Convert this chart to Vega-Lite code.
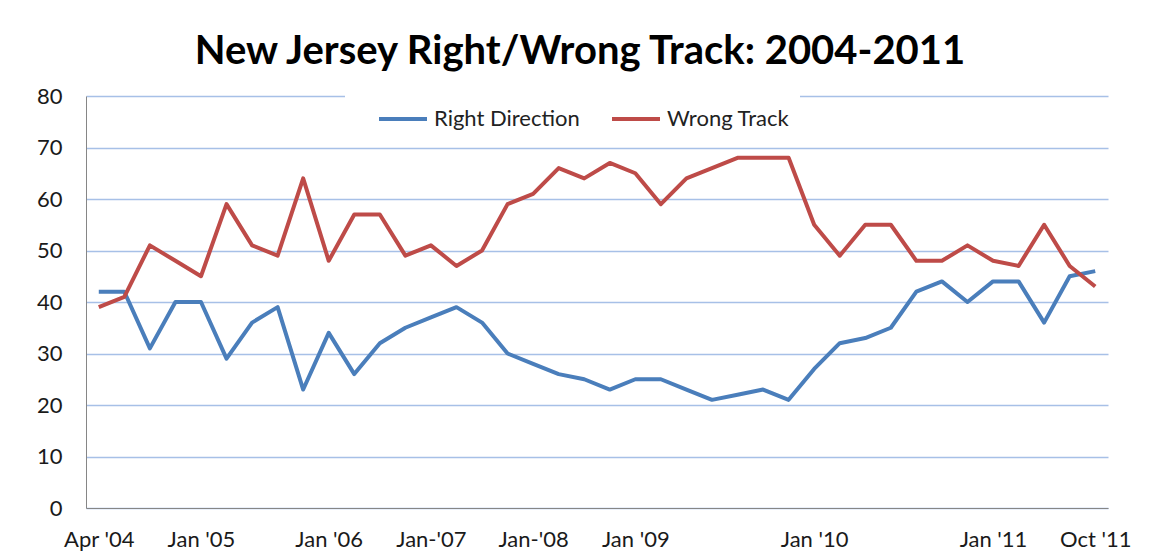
{
  "$schema": "https://vega.github.io/schema/vega-lite/v6.json",
  "autosize": {"type": "none"},
  "width": 1022,
  "height": 412,
  "padding": {"left": 86, "top": 96, "right": 43, "bottom": 52},
  "background": "white",
  "title": {
    "text": "New Jersey Right/Wrong Track: 2004-2011",
    "font": "Lato",
    "fontWeight": "bold",
    "fontSize": 40,
    "color": "#000000",
    "anchor": "middle",
    "frame": "group",
    "dx": -17,
    "baseline": "alphabetic",
    "offset": -19
  },
  "data": {
    "values": [
      {"n": 0, "Right Direction": 42, "Wrong Track": 39},
      {"n": 1, "Right Direction": 42, "Wrong Track": 41},
      {"n": 2, "Right Direction": 31, "Wrong Track": 51},
      {"n": 3, "Right Direction": 40, "Wrong Track": 48},
      {"n": 4, "Right Direction": 40, "Wrong Track": 45},
      {"n": 5, "Right Direction": 29, "Wrong Track": 59},
      {"n": 6, "Right Direction": 36, "Wrong Track": 51},
      {"n": 7, "Right Direction": 39, "Wrong Track": 49},
      {"n": 8, "Right Direction": 23, "Wrong Track": 64},
      {"n": 9, "Right Direction": 34, "Wrong Track": 48},
      {"n": 10, "Right Direction": 26, "Wrong Track": 57},
      {"n": 11, "Right Direction": 32, "Wrong Track": 57},
      {"n": 12, "Right Direction": 35, "Wrong Track": 49},
      {"n": 13, "Right Direction": 37, "Wrong Track": 51},
      {"n": 14, "Right Direction": 39, "Wrong Track": 47},
      {"n": 15, "Right Direction": 36, "Wrong Track": 50},
      {"n": 16, "Right Direction": 30, "Wrong Track": 59},
      {"n": 17, "Right Direction": 28, "Wrong Track": 61},
      {"n": 18, "Right Direction": 26, "Wrong Track": 66},
      {"n": 19, "Right Direction": 25, "Wrong Track": 64},
      {"n": 20, "Right Direction": 23, "Wrong Track": 67},
      {"n": 21, "Right Direction": 25, "Wrong Track": 65},
      {"n": 22, "Right Direction": 25, "Wrong Track": 59},
      {"n": 23, "Right Direction": 23, "Wrong Track": 64},
      {"n": 24, "Right Direction": 21, "Wrong Track": 66},
      {"n": 25, "Right Direction": 22, "Wrong Track": 68},
      {"n": 26, "Right Direction": 23, "Wrong Track": 68},
      {"n": 27, "Right Direction": 21, "Wrong Track": 68},
      {"n": 28, "Right Direction": 27, "Wrong Track": 55},
      {"n": 29, "Right Direction": 32, "Wrong Track": 49},
      {"n": 30, "Right Direction": 33, "Wrong Track": 55},
      {"n": 31, "Right Direction": 35, "Wrong Track": 55},
      {"n": 32, "Right Direction": 42, "Wrong Track": 48},
      {"n": 33, "Right Direction": 44, "Wrong Track": 48},
      {"n": 34, "Right Direction": 40, "Wrong Track": 51},
      {"n": 35, "Right Direction": 44, "Wrong Track": 48},
      {"n": 36, "Right Direction": 44, "Wrong Track": 47},
      {"n": 37, "Right Direction": 36, "Wrong Track": 55},
      {"n": 38, "Right Direction": 45, "Wrong Track": 47},
      {"n": 39, "Right Direction": 46, "Wrong Track": 43}
    ]
  },
  "transform": [
    {"fold": ["Right Direction", "Wrong Track"], "as": ["series", "value"]}
  ],
  "mark": {"type": "line", "strokeWidth": 4, "strokeJoin": "round", "strokeCap": "butt"},
  "encoding": {
    "x": {
      "field": "n",
      "type": "quantitative",
      "scale": {"domain": [-0.5, 39.5], "nice": false, "zero": false},
      "axis": {
        "title": null,
        "values": [0, 4, 9, 13, 17, 21, 28, 35, 39],
        "labelExpr": "datum.value == 0 ? \"Apr '04\" : datum.value == 4 ? \"Jan '05\" : datum.value == 9 ? \"Jan '06\" : datum.value == 13 ? \"Jan-'07\" : datum.value == 17 ? \"Jan-'08\" : datum.value == 21 ? \"Jan '09\" : datum.value == 28 ? \"Jan '10\" : datum.value == 35 ? \"Jan '11\" : \"Oct '11\"",
        "grid": false,
        "ticks": false,
        "labelPadding": 21,
        "labelFont": "Lato",
        "labelFontSize": 22,
        "labelColor": "#1a1a1a",
        "domainColor": "#868686",
        "domainWidth": 1,
        "labelBaseline": "top",
        "labelFlush": false
      }
    },
    "y": {
      "field": "value",
      "type": "quantitative",
      "scale": {"domain": [0, 80], "nice": false},
      "axis": {
        "title": null,
        "values": [0, 10, 20, 30, 40, 50, 60, 70, 80],
        "grid": true,
        "gridColor": "#A7C0E7",
        "gridWidth": 1.5,
        "ticks": false,
        "labelPadding": 24,
        "labelFont": "Lato",
        "labelFontSize": 22,
        "labelColor": "#1a1a1a",
        "domainColor": "#868686",
        "domainWidth": 1
      }
    },
    "color": {
      "field": "series",
      "type": "nominal",
      "scale": {"domain": ["Right Direction", "Wrong Track"], "range": ["#4A7EBB", "#BE4B48"]},
      "legend": {
        "title": null,
        "orient": "none",
        "legendX": 259,
        "legendY": -1,
        "direction": "horizontal",
        "symbolType": "M-2,0H2",
        "symbolSize": 576,
        "symbolStrokeWidth": 4,
        "symbolOffset": 34,
        "labelFont": "Lato",
        "labelFontSize": 22,
        "labelColor": "#222222",
        "labelOffset": 17,
        "columnPadding": 8,
        "padding": 10,
        "fillColor": "white",
        "strokeColor": null
      }
    }
  },
  "config": {
    "view": {"stroke": null}
  }
}
